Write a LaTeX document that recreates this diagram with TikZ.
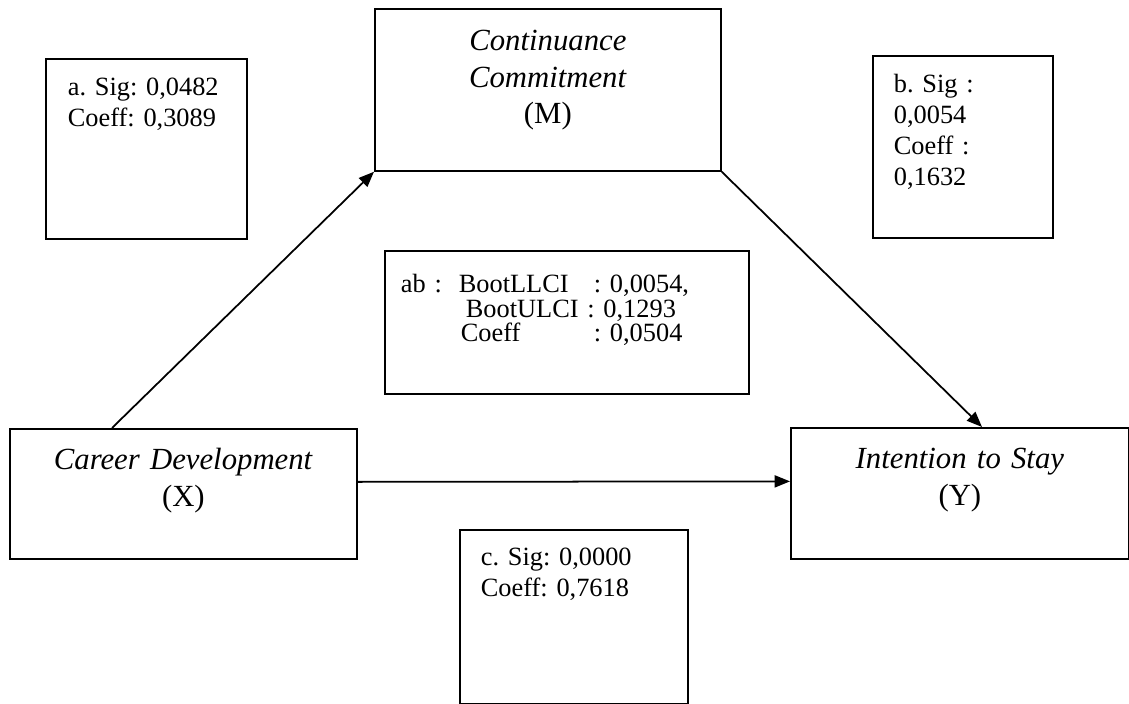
\documentclass[tikz,border=0pt]{standalone}
\usepackage{fontspec}
\setmainfont{Liberation Serif}
\usetikzlibrary{arrows.meta,calc,positioning}
\newlength{\px}
\setlength{\px}{0.016cm}
\frenchspacing

\begin{document}
\begin{tikzpicture}[
		x=0.016cm, y=-0.016cm,
		var/.style={draw, thick, anchor=north west, align=center, inner sep=0pt,
			font=\fontsize{14}{16.5}\selectfont},
		stat/.style={draw, thick, anchor=north west, align=left, inner ysep=0pt,
			font=\fontsize{12}{14}\selectfont},
		effect/.style={->, thick, >={Triangle[length=7pt,width=5.5pt]}}]
		\useasboundingbox (0,0) rectangle (1129,704);
		
		% Variables
		\node[var, text width=346\px, text height=42\px, text depth=120\px] (M) at (374,8)
		{\textit{Continuance}\\ \textit{Commitment}\\ (M)};
		\node[var, text width=347\px, text height=41\px, text depth=89\px] (X) at (9,428)
		{\textit{Career Development}\\ (X)};
		\node[var, text width=338\px, text height=41\px, text depth=90\px] (Y) at (790,427)
		{\textit{Intention to Stay}\\ (Y)};
		
		% Coefficients
		\node[stat, inner xsep=22\px, text width=157\px, text height=37\px, text depth=143\px] (a) at (45,58)
		{a. Sig: 0,0482\\ Coeff: 0,3089};
		\node[stat, inner xsep=21\px, text width=138\px, text height=37\px, text depth=145\px,
			font=\fontsize{12}{14.1}\selectfont] (b) at (872,55)
		{b. Sig :\\ 0,0054\\ Coeff :\\ 0,1632};
		\node[stat, inner xsep=21\px, text width=186\px, text height=36\px, text depth=138\px] (c) at (459,529)
		{c. Sig: 0,0000\\ Coeff: 0,7618};
		\node[stat, inner xsep=16\px, text width=332\px, text height=42\px, text depth=101\px,
			font=\fontsize{12}{11}\selectfont] (ab) at (384,250)
		{\makebox[58\px][l]{ab :}\makebox[135\px][l]{BootLLCI}: 0,0054,\\
			\hspace*{65\px}BootULCI : 0,1293\\
			\hspace*{60\px}\makebox[133\px][l]{Coeff}: 0,0504};
		
		% Paths
		\draw[effect] ($(X.north west)+(103,0)$) -- (M.south west);
		\draw[effect] (M.south east) -- ($(Y.north west)+(192,0)$);
		\draw[effect] ([yshift=12\px]X.east) -- ([yshift=12\px]Y.west);
		
\end{tikzpicture}
\end{document}
